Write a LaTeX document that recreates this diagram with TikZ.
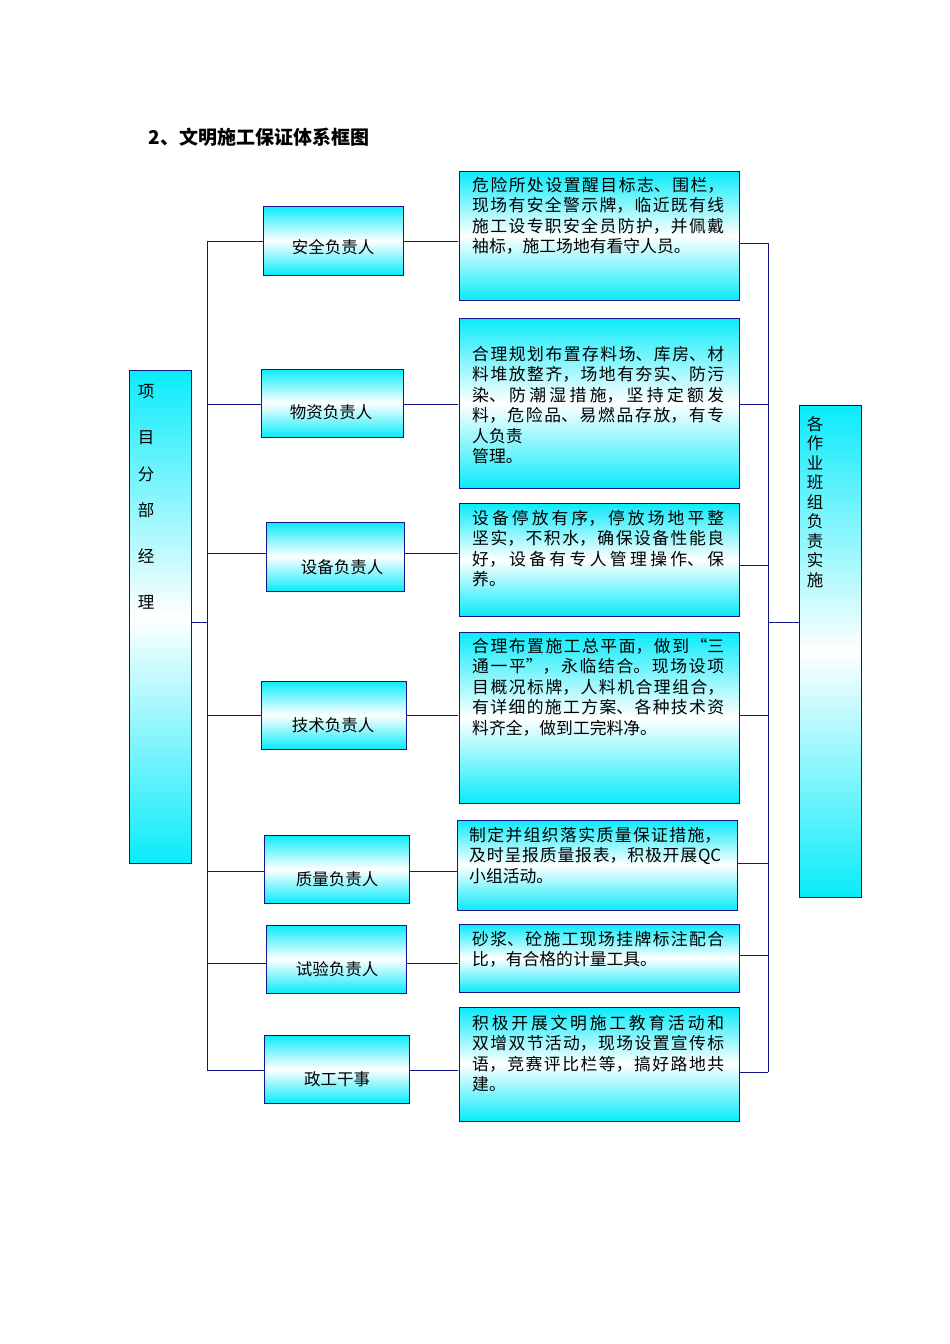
\documentclass[tikz,border=0pt]{standalone}
\usepackage{fontspec}
\setmainfont{Liberation Serif}
\newfontfamily\cjk{Noto Sans CJK SC}
\XeTeXlinebreaklocale "zh"
\XeTeXlinebreakskip=0pt plus 1pt
\definecolor{cy}{RGB}{10,235,250}
\definecolor{nv}{RGB}{20,20,140}
\begin{document}
\begin{tikzpicture}[x=1pt,y=-1pt,
  bx/.style={draw=nv,line width=0.9pt,top color=cy,bottom color=cy,middle color=white},
  ln/.style={draw=nv,line width=0.9pt},
  lbl/.style={font=\cjk\fontsize{16.5}{20}\selectfont},
  txt/.style={font=\cjk\fontsize{16.8}{20.5}\selectfont,text width=252pt,align=justify,anchor=north west,inner sep=0pt}]
\useasboundingbox (0,0) rectangle (950,1344);
\node[font=\cjk\bfseries\fontsize{19}{22}\selectfont,anchor=west] (title) at (145,137) {2、文明施工保证体系框图};
% left
\path[bx] (129,370) rectangle (191,863);
\foreach \c/\y in {项/392,目/438,分/474,部/510,经/556,理/602} \node[lbl] at (146,\y) {\c};
% right
\path[bx] (799,405) rectangle (861,897);
\node[lbl,align=center,font=\cjk\fontsize{16.5}{19.5}\selectfont,anchor=north,inner sep=0pt] (R) at (815,416) {各\\作\\业\\班\\组\\负\\责\\实\\施};
% buses
\draw[ln] (207,241) -- (207,1070);
\draw[ln] (768,243) -- (768,1072);
\draw[ln] (191,622) -- (207,622);
\draw[ln] (768,622) -- (799,622);
% middle boxes
\foreach \a/\b/\c/\d/\t/\ly/\tx/\ty in {
 263/206/403/275/安全负责人/241/333/247,
 261/369/403/437/物资负责人/404/331/412,
 266/522/404/591/设备负责人/553/342/567,
 261/681/406/749/技术负责人/715/333/725,
 264/835/409/903/质量负责人/871/337/879,
 266/925/406/993/试验负责人/963/337/969,
 264/1035/409/1103/政工干事/1070/337/1079}{
 \path[bx] (\a,\b) rectangle (\c,\d);
 \node[lbl] at (\tx,\ty) {\t};
 \draw[ln] (207,\ly) -- (\a,\ly);
 \draw[ln] (\c,\ly) -- (458,\ly);
}
% right boxes
\foreach \a/\b/\c/\d/\ly in {459/171/739/300/243, 459/318/739/488/404, 459/503/739/616/565, 459/632/739/803/715, 457/820/737/910/863, 459/924/739/992/955, 459/1007/739/1121/1072}{
 \path[bx] (\a,\b) rectangle (\c,\d);
 \draw[ln] (\c,\ly) -- (768,\ly);
}
\node[txt] (t1) at (472,177) {危险所处设置醒目标志、围栏，现场有安全警示牌，临近既有线施工设专职安全员防护，并佩戴袖标，施工场地有看守人员。};
\node[txt] (t2) at (472,346) {合理规划布置存料场、库房、材料堆放整齐，场地有夯实、防污染、防潮湿措施，坚持定额发料，危险品、易燃品存放，有专人负责\\管理。};
\node[txt] (t3) at (472,510) {设备停放有序，停放场地平整坚实，不积水，确保设备性能良好，设备有专人管理操作、保养。};
\node[txt] (t4) at (472,638) {合理布置施工总平面，做到“三通一平”，永临结合。现场设项目概况标牌，人料机合理组合，有详细的施工方案、各种技术资料齐全，做到工完料净。};
\node[txt] (t5) at (469,827) {制定并组织落实质量保证措施，及时呈报质量报表，积极开展QC小组活动。};
\node[txt] (t6) at (472,931) {砂浆、砼施工现场挂牌标注配合比，有合格的计量工具。};
\node[txt] (t7) at (472,1015) {积极开展文明施工教育活动和双增双节活动，现场设置宣传标语，竞赛评比栏等，搞好路地共建。};
\end{tikzpicture}
\end{document}
